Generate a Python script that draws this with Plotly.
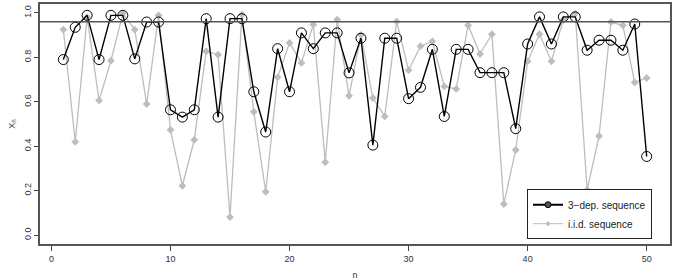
import plotly.graph_objects as go

n = list(range(1, 51))
dep_seq = [0.790, 0.935, 0.989, 0.790, 0.989, 0.989, 0.793, 0.959, 0.959, 0.564,
           0.531, 0.564, 0.974, 0.531, 0.974, 0.974, 0.645, 0.464, 0.839, 0.645,
           0.910, 0.839, 0.910, 0.910, 0.730, 0.886, 0.405, 0.886, 0.886, 0.614,
           0.665, 0.836, 0.534, 0.836, 0.836, 0.731, 0.731, 0.731, 0.479, 0.860,
           0.982, 0.860, 0.982, 0.982, 0.832, 0.877, 0.877, 0.832, 0.950, 0.354]
iid_seq = [0.925, 0.420, 0.980, 0.606, 0.785, 0.997, 0.925, 0.590, 0.989, 0.474,
           0.222, 0.429, 0.827, 0.812, 0.081, 0.992, 0.555, 0.195, 0.710, 0.865,
           0.775, 0.947, 0.328, 0.970, 0.627, 0.901, 0.617, 0.534, 0.961, 0.742,
           0.850, 0.872, 0.669, 0.658, 0.944, 0.815, 0.904, 0.140, 0.383, 0.782,
           0.904, 0.782, 0.970, 0.997, 0.203, 0.446, 0.959, 0.944, 0.687, 0.707]
threshold = 0.96
x_ticks = [0, 10, 20, 30, 40, 50]
y_ticks = [0.0, 0.2, 0.4, 0.6, 0.8, 1.0]

font = "Liberation Sans, Arial, sans-serif"
grey = "#bdbdbd"

fig = go.Figure()
fig.add_trace(go.Scatter(
    x=n, y=iid_seq, mode="lines+markers", name="i.i.d. sequence",
    line=dict(color=grey, width=1.3),
    marker=dict(symbol="diamond", size=6, color=grey),
    showlegend=False,
))
fig.add_trace(go.Scatter(
    x=n, y=dep_seq, mode="lines+markers", name="3\u2212dep. sequence",
    line=dict(color="black", width=1.4),
    marker=dict(symbol="circle-open", size=10, color="black", line=dict(width=1)),
    showlegend=False,
))
# legend-only entries with smaller symbols, as in the reference legend
fig.add_trace(go.Scatter(
    x=[None], y=[None], mode="lines+markers", name="3\u2212dep. sequence",
    line=dict(color="black", width=2),
    marker=dict(symbol="circle", size=6, color="#555555", line=dict(color="black", width=1)),
    legendrank=1,
))
fig.add_trace(go.Scatter(
    x=[None], y=[None], mode="lines+markers", name="i.i.d. sequence",
    line=dict(color=grey, width=1),
    marker=dict(symbol="diamond", size=4, color=grey),
    legendrank=2,
))
fig.add_hline(y=threshold, line=dict(color="#555555", width=1.4))

fig.update_layout(
    width=684, height=280,
    margin=dict(l=40, r=14, t=4, b=36, autoexpand=False),
    paper_bgcolor="white", plot_bgcolor="white",
    font=dict(family=font, size=9, color="#333333"),
    showlegend=True,
    legend=dict(
        x=0.773, y=0.02, xanchor="left", yanchor="bottom",
        bordercolor="#222222", borderwidth=1, bgcolor="white",
        font=dict(size=10, color="#222222"),
        tracegroupgap=0, itemwidth=30,
    ),
)
fig.update_xaxes(
    range=[-0.96, 51.96], tickvals=x_ticks, ticks="outside", ticklen=5,
    tickcolor="#444444", showgrid=False, zeroline=False, automargin=False,
    showline=True, linecolor="#555555", linewidth=1.5, mirror=True,
    title=dict(text="n", standoff=14, font=dict(size=9, color="#333333")),
)
fig.update_yaxes(
    range=[-0.04, 1.04], tickvals=y_ticks, ticktext=[f"{v:.1f}" for v in y_ticks],
    ticks="outside", ticklen=4, tickangle=-90, automargin=False,
    tickcolor="#444444", showgrid=False, zeroline=False,
    showline=True, linecolor="#555555", linewidth=1.5, mirror=True,
    title=dict(text="X<sub>n</sub>", standoff=6, font=dict(size=9, color="#333333")),
)

fig.write_html("out.html")
